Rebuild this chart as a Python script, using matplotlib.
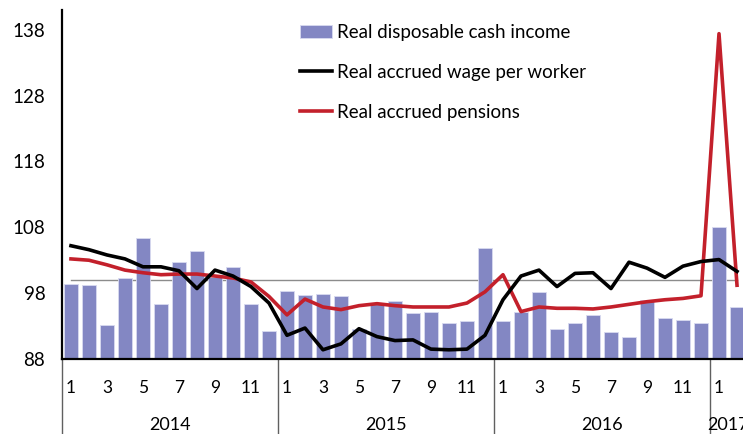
import matplotlib
matplotlib.use("Agg")
import matplotlib.pyplot as plt
import matplotlib.transforms as mtransforms
import numpy as np

plt.rcParams['font.family'] = ['Lato', 'DejaVu Sans']

years = ['2014', '2015', '2016', '2017']
months_per_year = [12, 12, 12, 2]

# Real disposable cash income (bars)
income = [99.4, 99.3, 93.2, 100.3, 106.3, 96.4, 102.8, 104.4, 100.4, 102.0, 96.4, 92.3,
          98.4, 97.7, 97.9, 97.6, 92.6, 96.4, 96.8, 95.0, 95.2, 93.4, 93.8, 104.8,
          93.7, 95.2, 98.2, 92.6, 93.5, 94.7, 92.1, 91.4, 97.0, 94.3, 93.9, 93.5,
          108.0, 95.9]
# Real accrued wage per worker
wage = [105.2, 104.6, 103.8, 103.2, 102.0, 102.0, 101.4, 98.7, 101.5, 100.6, 99.0, 96.5,
        91.6, 92.7, 89.4, 90.3, 92.6, 91.4, 90.8, 90.9, 89.5, 89.4, 89.5, 91.6,
        97.0, 100.6, 101.5, 99.0, 101.0, 101.1, 98.7, 102.7, 101.8, 100.4, 102.1, 102.8,
        103.1, 101.3]
# Real accrued pensions
pensions = [103.2, 103.0, 102.3, 101.5, 101.1, 100.8, 100.9, 100.9, 100.6, 100.3, 99.7, 97.5,
            94.7, 97.1, 95.9, 95.5, 96.1, 96.4, 96.1, 95.9, 95.9, 95.9, 96.5, 98.2,
            100.8, 95.2, 95.9, 95.7, 95.7, 95.6, 95.9, 96.3, 96.7, 97.0, 97.2, 97.6,
            137.4, 99.2]

n = len(income)
x = np.arange(n)
month_labels = []
for cnt in months_per_year:
    for m in range(1, cnt + 1):
        month_labels.append(str(m) if m % 2 == 1 else '')

fig = plt.figure(figsize=(7.43, 4.34), dpi=100)
ax = fig.add_axes([0.0834, 0.1728, 1 - 0.0834, 0.977 - 0.1728])

bars = ax.bar(x, income, width=0.76, color='#8387C3', edgecolor='#D8DAF0',
              linewidth=0.6, label='Real disposable cash income', zorder=2)
ax.plot([0, n - 1], [100, 100], color='#8C8C8C', lw=1.0, zorder=1)
l_wage, = ax.plot(x, wage, color='black', lw=2.6, label='Real accrued wage per worker', zorder=4)
l_pen, = ax.plot(x, pensions, color='#C3202B', lw=2.6, label='Real accrued pensions', zorder=3)

ax.set_ylim(88, 141)
ax.set_xlim(-0.5, -0.5 + 681 / 18)
ax.set_yticks([88, 98, 108, 118, 128, 138])
ax.tick_params(axis='y', length=0, pad=12, labelsize=13.5)
ax.set_xticks(x)
ax.set_xticklabels(month_labels)
ax.tick_params(axis='x', length=0, pad=15, labelsize=12.5)

for s in ['top', 'right']:
    ax.spines[s].set_visible(False)
ax.spines['left'].set_linewidth(1.6)
ax.spines['bottom'].set_linewidth(1.6)

# year separators and labels below axis
trans = mtransforms.blended_transform_factory(ax.transData, ax.transAxes)
bounds = [0]
for cnt in months_per_year:
    bounds.append(bounds[-1] + cnt)
for i, yr in enumerate(years):
    left = bounds[i] - 0.5
    ax.plot([left, left], [0, -0.25], color='#606060', lw=1.0, transform=trans, clip_on=False)
    mid = (bounds[i] + bounds[i + 1] - 1) / 2
    ax.text(mid, -0.19, yr, transform=trans, ha='center', va='center', fontsize=13)

ax.legend([bars, l_wage, l_pen],
          ['Real disposable cash income', 'Real accrued wage per worker', 'Real accrued pensions'],
          loc='upper left', bbox_to_anchor=(300 / 743, 0.945), bbox_transform=fig.transFigure,
          frameon=False, fontsize=13.5, labelspacing=1.22, handlelength=1.7,
          handletextpad=0.25, borderpad=0, borderaxespad=0)

fig.savefig('out.png', dpi=100)
